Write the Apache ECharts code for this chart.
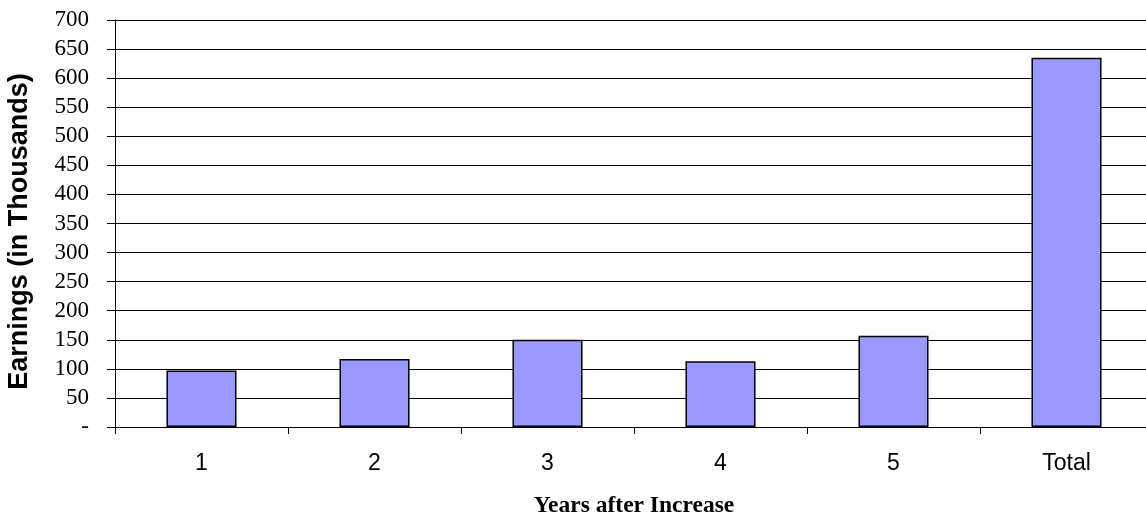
<!DOCTYPE html>
<html>
<head>
<meta charset="utf-8">
<script src="https://cdn.jsdelivr.net/npm/echarts@6/dist/echarts.min.js"></script>
<style>
html,body{margin:0;padding:0;background:#fff;}
#chart{width:1146px;height:517px;}
</style>
</head>
<body>
<div id="chart"></div>
<script>
const categories = ['1', '2', '3', '4', '5', 'Total'];
const earnings = [97, 117, 150, 113, 157, 635];
const yMin = 0, yMax = 700, yStep = 50;
const xTitle = 'Years after Increase';
const yTitle = 'Earnings (in Thousands)';

const chart = echarts.init(document.getElementById('chart'));
chart.setOption({
  animation: false,
  backgroundColor: '#ffffff',
  grid: { left: 115, top: 20, width: 1038, height: 407, containLabel: false, outerBoundsMode: 'none' },
  xAxis: {
    type: 'category',
    data: categories,
    boundaryGap: true,
    name: xTitle,
    nameLocation: 'middle',
    nameGap: 67,
    nameTextStyle: { fontFamily: 'Liberation Serif', fontWeight: 'bold', fontSize: 23.5, color: '#000' },
    axisLine: { show: true, lineStyle: { color: '#000', width: 1 } },
    axisTick: { show: true, alignWithLabel: false, length: 7, lineStyle: { color: '#000' } },
    axisLabel: { fontFamily: 'Liberation Sans', fontSize: 23, color: '#000', margin: 25 },
    splitLine: { show: false }
  },
  yAxis: {
    type: 'value',
    min: yMin, max: yMax, interval: yStep,
    name: yTitle,
    nameLocation: 'middle',
    nameGap: 82,
    nameTextStyle: { fontFamily: 'Liberation Sans', fontWeight: 'bold', fontSize: 27, color: '#000', padding: [0, 16, 0, 0] },
    axisLine: { show: true, lineStyle: { color: '#000', width: 1 } },
    axisTick: { show: true, length: 8, lineStyle: { color: '#000' } },
    axisLabel: {
      fontFamily: 'Liberation Serif', fontSize: 23, color: '#000', margin: 26,
      formatter: v => v === 0 ? '-' : String(v)
    },
    splitLine: { show: true, lineStyle: { color: '#000', width: 1 } }
  },
  series: [{
    type: 'bar',
    data: earnings,
    barWidth: '40.5%',
    itemStyle: { color: '#9999FF', borderColor: '#000', borderWidth: 1.5 }
  }]
});
</script>
</body>
</html>
